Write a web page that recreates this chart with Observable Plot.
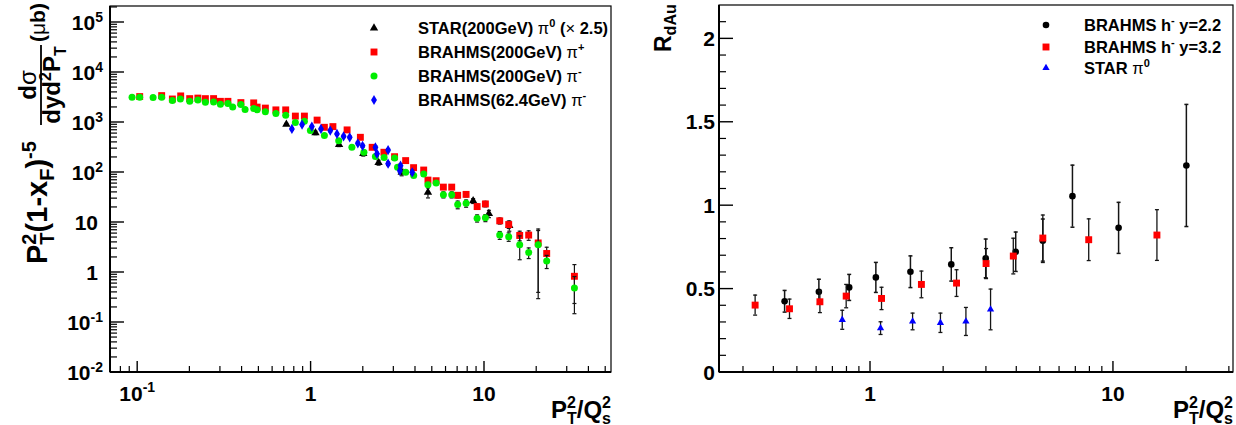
<!DOCTYPE html>
<html><head><meta charset="utf-8">
<script src="https://cdn.jsdelivr.net/npm/d3@7"></script>
<script src="https://cdn.jsdelivr.net/npm/@observablehq/plot@0.6"></script>
<style>
body{margin:0;background:#fff;}
#wrap{display:flex;width:1236px;height:425px;background:#fff;}
svg text{white-space:pre;}
</style></head><body><div id="wrap"></div>
<script>
// ---------------- LEFT PANEL DATA ----------------
const starX = [0.72, 1.06, 1.45, 2.0, 2.45, 3.33, 4.72, 8.6, 10.6, 13.9];
const starY = [920, 620, 360, 238, 158, 101, 40, 27, 15, 8.7];
const starE = [40, 50, 30, 25, 18, 15, 9, 3, 2.5, 2];

const piPlusX = [0.1027,0.1375,0.1585,0.177,0.1995,0.2224,0.2457,0.274,0.2999,0.3313,0.3937,0.4667,0.4883,0.5449,0.6266,0.7138,0.8116,0.915,1.083,1.193,1.336,1.613,1.924,2.25,2.63,3.03,3.51,3.9,4.46,4.72,5.26,5.79,6.47,7.0,7.83,9.07,10.12,12.24,13.79,15.96,17.98,20.4,22.84,33.0];
const piPlusY = [3300,3450,2950,3400,3000,3076,3000,3006,2650,2650,2500,2466,2032,1941,1787,1787,1343,1343,1117,802,828,711,506,319,254,207,173,125,112,70.5,68.5,51,51,35,36.5,20.8,23.5,10.8,9.1,5.5,5.6,3.9,2.4,0.84];
const piPlusE = [60,60,50,60,50,50,50,50,45,45,40,40,35,35,30,30,25,25,20,15,15,15,10,8,8,8,7,6,6,5,6,5,5,4,4,2.5,3,1.5,1.5,1.2,1.2,3.5,0.8,0.6];

const piMinusX = [0.0928,0.1027,0.1227,0.1375,0.1585,0.1762,0.1995,0.2224,0.2457,0.274,0.2999,0.3313,0.3531,0.3937,0.4163,0.4667,0.4883,0.5449,0.6266,0.7138,0.8116,0.915,0.9908,1.193,1.443,1.719,2.017,2.349,2.636,3.031,3.15,3.513,3.906,4.461,4.717,5.261,5.794,6.469,7.006,7.833,9.065,10.12,12.24,13.79,15.96,17.98,20.4,22.84,33.0];
const piMinusY = [3192,3192,3148,3192,2742,2965,2654,2831,2540,2559,2312,2400,2050,2280,1830,1900,1800,1640,1520,1400,1000,1057,689,550,434,319,254,210,200,195,128,101,87,93,57,62,36,36,22.8,24.2,12.2,12.4,5.6,5.2,3.6,2.5,3.6,1.7,0.49];
const piMinusE = [50,50,50,50,45,45,40,40,40,40,35,35,30,30,30,30,30,25,25,25,20,20,15,12,10,8,8,7,7,7,6,6,6,6,5,5,5,5,4,4,2,2,1,1,1.8,0.6,3.3,0.5,0.34];

const pi62X = [0.775,0.887,1.01,1.14,1.29,1.41,1.54,1.67,1.86,1.98,2.35,2.40,2.78,2.78,3.28,3.25,3.83];
const pi62Y = [745,908,828,745,689,592,528,506,384,342,319,236,281,150,137,109,101];
const pi62E = [40,50,45,40,40,35,30,30,25,25,20,18,20,12,12,10,10];

const leftXMajor = [0.1, 1, 10];
const leftXLabels = [["10","-1"], ["1",""], ["10",""]];
const leftYMajor = [1e-2, 1e-1, 1, 10, 1e2, 1e3, 1e4, 1e5];
const leftYLabels = [["10","-2"],["10","-1"],["1",""],["10",""],["10","2"],["10","3"],["10","4"],["10","5"]];

// ---------------- RIGHT PANEL DATA ----------------
const h22X = [0.443, 0.613, 0.817, 1.052, 1.46, 2.15, 2.98, 3.96, 5.12, 6.78, 10.5, 19.96];
const h22Y = [0.427, 0.484, 0.510, 0.570, 0.604, 0.648, 0.684, 0.724, 0.79, 1.057, 0.867, 1.241];
const h22E = [0.065, 0.075, 0.078, 0.09, 0.095, 0.1, 0.116, 0.118, 0.13, 0.186, 0.153, 0.366];

const h32X = [0.335, 0.464, 0.619, 0.794, 1.11, 1.62, 2.26, 2.99, 3.87, 5.12, 7.91, 15.1];
const h32Y = [0.404, 0.382, 0.424, 0.458, 0.444, 0.528, 0.536, 0.653, 0.698, 0.806, 0.796, 0.824];
const h32E = [0.06, 0.058, 0.065, 0.07, 0.067, 0.08, 0.08, 0.09, 0.107, 0.138, 0.125, 0.152];

const starRX = [0.765, 1.10, 1.49, 1.94, 2.47, 3.12];
const starRY = [0.316, 0.266, 0.306, 0.298, 0.306, 0.378];
const starRE = [0.057, 0.038, 0.05, 0.058, 0.084, 0.122];

const rightXMajor = [1, 10];
const rightXLabels = [["1",""],["10",""]];
const rightYMajor = [0, 0.5, 1, 1.5, 2];
const rightYLabels = [["0",""],["0.5",""],["1",""],["1.5",""],["2",""]];

// ---------------- helpers ----------------
const FONT = '"Liberation Sans", Arial, Helvetica, sans-serif';
const W = 618, H = 425;

function rows(xs, ys, es) {
  const n = Math.min(xs.length, ys.length, es.length);
  return d3.range(n).map(i => ({x: xs[i], y: ys[i], lo: ys[i] - es[i], hi: ys[i] + es[i]}));
}
const cap = {draw(ctx, size) { const w = Math.sqrt(size / Math.PI); ctx.moveTo(-w, 0); ctx.lineTo(w, 0); }};
function errMarks(data, sw = 1.2) {
  return [
    Plot.ruleX(data, {x: "x", y1: "lo", y2: "hi", stroke: "#151515", strokeWidth: sw}),
    Plot.dot(data, {x: "x", y: "lo", symbol: cap, r: 2, stroke: "#151515", strokeWidth: sw, fill: "none"}),
    Plot.dot(data, {x: "x", y: "hi", symbol: cap, r: 2, stroke: "#151515", strokeWidth: sw, fill: "none"})
  ];
}
function scaleFn(plot, k) {
  const s = plot.scale(k);
  if (s.apply) return v => s.apply(v);
  return (s.type === "log" ? d3.scaleLog() : d3.scaleLinear()).domain(s.domain).range(s.range);
}
function richText(g, x, y, size, parts, anchor = "start") {
  const t = g.append("text").attr("x", x).attr("y", y).attr("font-size", size)
    .attr("font-weight", "bold").attr("font-family", FONT).attr("text-anchor", anchor).attr("fill", "#000");
  let cur = 0;
  for (const p of parts) {
    const o = typeof p === "string" ? {t: p} : p;
    const s = t.append("tspan").text(o.t);
    const target = o.dy || 0;
    if (target !== cur) { s.attr("dy", target - cur); cur = target; }
    if (o.dx) s.attr("dx", o.dx);
    if (o.size) s.attr("font-size", o.size);
    if (o.normal) s.attr("font-weight", "normal");
  }
  return t;
}
function minorLog(lo, hi) {
  const out = [];
  for (let e = Math.floor(Math.log10(lo)) - 1; e <= Math.ceil(Math.log10(hi)); e++)
    for (let m = 2; m <= 9; m++) { const v = m * Math.pow(10, e); if (v > lo * 1.0001 && v < hi * 0.9999) out.push(v); }
  return out;
}
function decorate(plot, cfg) {
  const sx = scaleFn(plot, "x"), sy = scaleFn(plot, "y");
  const X0 = cfg.ml, X1 = W - cfg.mr, Y0 = cfg.mt, Y1 = H - cfg.mb;
  const g = d3.select(plot).append("g");
  g.append("rect").attr("x", X0).attr("y", Y0).attr("width", X1 - X0).attr("height", Y1 - Y0)
    .attr("fill", "none").attr("stroke", "#000").attr("stroke-width", 1.2);
  g.append("line").attr("x1", X0).attr("x2", X0).attr("y1", Y0).attr("y2", Y1).attr("stroke", "#000").attr("stroke-width", 2);
  g.append("line").attr("x1", X0).attr("x2", X1).attr("y1", Y1).attr("y2", Y1).attr("stroke", "#000").attr("stroke-width", 2);
  const tick = (x1, y1, x2, y2, w) => g.append("line").attr("x1", x1).attr("y1", y1).attr("x2", x2).attr("y2", y2).attr("stroke", "#000").attr("stroke-width", w);
  for (const v of cfg.xMinor) tick(sx(v), Y1, sx(v), Y1 - 6, 1.2);
  for (const v of cfg.xMajor) tick(sx(v), Y1, sx(v), Y1 - 11, 1.4);
  for (const v of cfg.yMinor) tick(X0, sy(v), X0 + 7, sy(v), 1.2);
  for (const v of cfg.yMajor) tick(X0, sy(v), X0 + 14, sy(v), 1.4);
  cfg.xMajor.forEach((v, i) => {
    const [b, e] = cfg.xLabels[i];
    richText(g, sx(v), 401, 21, e ? [b, {t: e, dy: -9, size: 14}] : [b], "middle");
  });
  cfg.yMajor.forEach((v, i) => {
    const [b, e] = cfg.yLabels[i];
    richText(g, e ? X0 - cfg.ylabOffE : X0 - cfg.ylabOff, sy(v) + 7.5, 21, e ? [b, {t: e, dy: -8, size: 14}] : [b], "end");
  });
  // x title
  richText(g, X1, 418, 24, ["P", {t: "2", dy: -10, size: 16}, {t: "T", dy: 6, size: 16, dx: -8.9}, "/Q",
    {t: "2", dy: -10, size: 16}, {t: "s", dy: 6, size: 16, dx: -8.9}], "end");
  return g;
}
function legendRow(g, x, y, sym, r, color, parts, size = 16, gap = 44) {
  g.append("path").attr("transform", `translate(${x},${y})`).attr("d", d3.symbol(sym, Math.PI * r * r)()).attr("fill", color);
  richText(g, x + gap, y + 6, size, parts);
}

// ---------------- LEFT PANEL ----------------
const L = {ml: 110, mr: 7, mt: 6, mb: 53};
const leftPlot = Plot.plot({
  width: W, height: H, marginLeft: L.ml, marginRight: L.mr, marginTop: L.mt, marginBottom: L.mb,
  style: {background: "white", fontFamily: FONT, overflow: "visible"},
  x: {type: "log", domain: [0.0697, 54], axis: null},
  y: {type: "log", domain: [0.01, 208930], axis: null},
  marks: [
    ...errMarks(rows(starX, starY, starE)),
    Plot.dot(rows(starX, starY, starE), {x: "x", y: "y", symbol: "triangle", r: 3.1, fill: "black"}),
    ...errMarks(rows(piPlusX, piPlusY, piPlusE)),
    Plot.dot(rows(piPlusX, piPlusY, piPlusE), {x: "x", y: "y", symbol: "square", r: 3.9, fill: "#ff0000"}),
    ...errMarks(rows(piMinusX, piMinusY, piMinusE)),
    Plot.dot(rows(piMinusX, piMinusY, piMinusE), {x: "x", y: "y", symbol: "circle", r: 3.5, fill: "#00ee00"}),
    ...errMarks(rows(pi62X, pi62Y, pi62E)),
    Plot.dot(rows(pi62X, pi62Y, pi62E), {x: "x", y: "y", symbol: "diamond", r: 3.1, fill: "#0000ff"})
  ]
});
const lg = decorate(leftPlot, Object.assign({}, L, {
  xMajor: leftXMajor, xLabels: leftXLabels, xMinor: minorLog(0.0697, 54),
  yMajor: leftYMajor, yLabels: leftYLabels, yMinor: minorLog(0.01, 208930),
  ylabOff: 12, ylabOffE: 7
}));
// legend
legendRow(lg, 374, 28, d3.symbolTriangle, 3.1, "black", ["STAR(200GeV) ", {t: "π", normal: true}, {t: "0", dy: -7, size: 11}, " (", {t: "×", normal: true}, " 2.5)"], 16.5);
legendRow(lg, 374, 52, d3.symbolSquare, 3.9, "#ff0000", ["BRAHMS(200GeV) ", {t: "π", normal: true}, {t: "+", dy: -7, size: 11}], 16.5);
legendRow(lg, 374, 76, d3.symbolCircle, 3.5, "#00ee00", ["BRAHMS(200GeV) ", {t: "π", normal: true}, {t: "-", dy: -7, size: 11}], 16.5);
legendRow(lg, 374, 100, d3.symbolDiamond, 3.1, "#0000ff", ["BRAHMS(62.4GeV) ", {t: "π", normal: true}, {t: "-", dy: -7, size: 11}], 16.5);
// y title (rotated)
{
  const t = lg.append("g").attr("transform", "rotate(-90)");
  richText(t, -264, 47, 29, ["P", {t: "2", dy: -11, size: 20}, {t: "T", dy: 7, size: 20, dx: -11.1}, "(1-x", {t: "F", dy: 7, size: 20}, ")", {t: "-5", dy: -11, size: 20}]);
  richText(t, -85, 36, 24, ["d", {t: "σ", normal: true}], "middle");
  t.append("line").attr("x1", -125).attr("x2", -45).attr("y1", 41).attr("y2", 41).attr("stroke", "#000").attr("stroke-width", 1.8);
  richText(t, -85, 60, 24, ["dyd", {t: "2", dy: -9, size: 16}, "P", {t: "T", dy: 6, size: 16}], "middle");
  richText(t, -42, 45, 21, ["(", {t: "μ", normal: true}, "b)"]);
}

// ---------------- RIGHT PANEL ----------------
const R = {ml: 101, mr: 3, mt: 5, mb: 53};
const rightPlot = Plot.plot({
  width: W, height: H, marginLeft: R.ml, marginRight: R.mr, marginTop: R.mt, marginBottom: R.mb,
  style: {background: "white", fontFamily: FONT, overflow: "visible"},
  x: {type: "log", domain: [0.239, 31.2], axis: null},
  y: {type: "linear", domain: [0, 2.2], axis: null},
  marks: [
    ...errMarks(rows(h22X, h22Y, h22E), 1.5),
    Plot.dot(rows(h22X, h22Y, h22E), {x: "x", y: "y", symbol: "circle", r: 3.3, fill: "black"}),
    ...errMarks(rows(h32X, h32Y, h32E), 1.3),
    Plot.dot(rows(h32X, h32Y, h32E), {x: "x", y: "y", symbol: "square", r: 3.9, fill: "#ff0000"}),
    ...errMarks(rows(starRX, starRY, starRE), 1.3),
    Plot.dot(rows(starRX, starRY, starRE), {x: "x", y: "y", symbol: "triangle", r: 2.7, fill: "#0000ff"})
  ]
});
const rg = decorate(rightPlot, Object.assign({}, R, {
  xMajor: rightXMajor, xLabels: rightXLabels, xMinor: minorLog(0.239, 31.2),
  yMajor: rightYMajor, yLabels: rightYLabels, yMinor: d3.range(0.1, 2.2, 0.1).filter(v => Math.abs(v * 2 - Math.round(v * 2)) > 1e-6),
  ylabOff: 4, ylabOffE: 4
}));
legendRow(rg, 1046 - W, 25, d3.symbolCircle, 3.3, "black", ["BRAHMS h", {t: "-", dy: -7, size: 11}, " y=2.2"], 16.5, 38);
legendRow(rg, 1046 - W, 47, d3.symbolSquare, 3.9, "#ff0000", ["BRAHMS h", {t: "-", dy: -7, size: 11}, " y=3.2"], 16.5, 38);
legendRow(rg, 1046 - W, 68, d3.symbolTriangle, 2.7, "#0000ff", ["STAR ", {t: "π", normal: true}, {t: "0", dy: -7, size: 11}], 16.5, 38);
{
  const t = rg.append("g").attr("transform", "rotate(-90)");
  richText(t, -52, 53, 23, ["R", {t: "dAu", dy: 5, size: 16}]);
}

const wrap = document.getElementById("wrap");
wrap.appendChild(leftPlot);
wrap.appendChild(rightPlot);
</script>
</body></html>
